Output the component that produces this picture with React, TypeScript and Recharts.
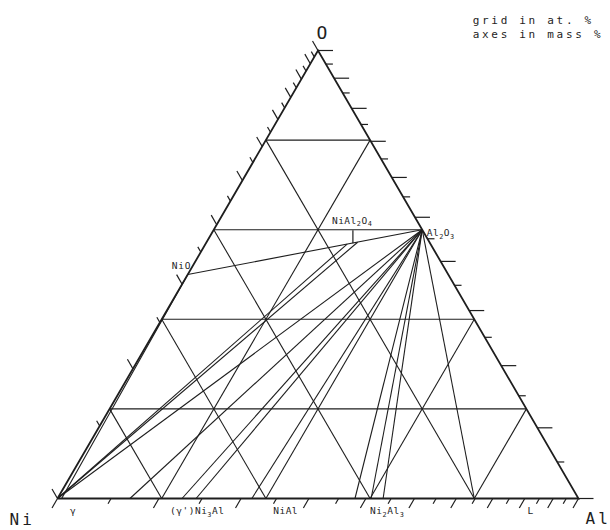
import React from 'react'
import { ComposedChart, ReferenceDot, ReferenceLine, Scatter, XAxis, YAxis } from 'recharts'

// compositions are [Ni, Al, O] in at.%
type Comp = [number, number, number]

const NI: Comp = [100, 0, 0]
const AL: Comp = [0, 100, 0]
const O: Comp = [0, 0, 100]
const NIO: Comp = [50, 0, 50]
const AL2O3: Comp = [0, 40, 60]
const SPINEL: Comp = [14.8, 28.2, 57.0]
const SPINEL_NI_EDGE: Comp = [16.0, 27.2, 56.8]
const SPINEL_AL_EDGE: Comp = [13.8, 29.0, 57.2]
const GAMMA_O_LIMIT: Comp = [99.2, 0.8, 0]

// grid in at.%
const GRID_AT = [20, 40, 60, 80]
// axes in mass %
const MASS_TICKS = [0, 5, 10, 15, 20, 25, 30, 35, 40, 45, 50, 55, 60, 65, 70, 75, 80, 85, 90, 95, 100]

// at.% Al on the Ni-Al side where tie lines to Al2O3 end
const AL2O3_TIES_AL = [0, 13.9, 23.9, 26.6, 37.3, 57.1, 60.2, 62.5, 80]

const OTHER_TIES: [Comp, Comp][] = [
  [NI, SPINEL_NI_EDGE],
  [NI, SPINEL_AL_EDGE],
  [NIO, AL2O3],
  [NIO, GAMMA_O_LIMIT],
]

const PHASES = ['γ', "(γ')Ni_3Al", 'NiAl', 'Ni_2Al_3', 'L']
const PHASES_AL = [2.4, 21.6, 41.4, 60.0, 90.2]

const ATOMIC_MASS = { Ni: 58.69, Al: 26.98, O: 16.0 }

const INK = '#1e1e1e'
const FONT = '"DejaVu Sans Mono", monospace'

// pixel frame of the triangle
const ORIGIN_X = 57.5
const ORIGIN_Y = 498.5
const SCALE_X = 521
const SCALE_Y = 517.3
const W = 610
const H = 530

const H3 = Math.sqrt(3) / 2

function toPt(c: Comp) {
  const s = c[0] + c[1] + c[2]
  const al = c[1] / s
  const o = c[2] / s
  return { x: al + o / 2, y: o * H3 }
}

function fromPx(px: number, py: number) {
  return { x: (px - ORIGIN_X) / SCALE_X, y: (ORIGIN_Y - py) / SCALE_Y }
}

function atFraction(w: number, mA: number, mB: number) {
  const b = w / mB
  const a = (1 - w) / mA
  return b / (a + b)
}

function Rich({ x, y, text, size, spacing = 0, anchor = 'start' }: any) {
  const parts = text.split(/_(\w)/)
  const nodes: any[] = []
  let low = false
  parts.forEach((p: string, i: number) => {
    if (!p) return
    const sub = i % 2 === 1
    let dy: number | undefined
    if (sub && !low) {
      dy = size * 0.3
      low = true
    } else if (!sub && low) {
      dy = -size * 0.3
      low = false
    }
    nodes.push(
      <tspan key={i} dy={dy} fontSize={sub ? size * 0.72 : size}>
        {p}
      </tspan>
    )
  })
  return (
    <text x={x} y={y} fontFamily={FONT} fontSize={size} letterSpacing={spacing} textAnchor={anchor} fill={INK}>
      {nodes}
    </text>
  )
}

type Seg = { a: { x: number; y: number }; b: { x: number; y: number }; w: number }

function buildSegments(): Seg[] {
  const segs: Seg[] = []
  // grid
  GRID_AT.forEach((k) => {
    segs.push({ a: toPt([100 - k, 0, k]), b: toPt([0, 100 - k, k]), w: 1.1 })
    segs.push({ a: toPt([100 - k, k, 0]), b: toPt([0, k, 100 - k]), w: 1.1 })
    segs.push({ a: toPt([k, 100 - k, 0]), b: toPt([k, 0, 100 - k]), w: 1.1 })
  })
  // tie lines
  AL2O3_TIES_AL.forEach((al) => {
    segs.push({ a: toPt([100 - al, al, 0]), b: toPt(AL2O3), w: 1.1 })
  })
  OTHER_TIES.forEach(([p, q]) => segs.push({ a: toPt(p), b: toPt(q), w: 1.1 }))

  // mass % ticks
  const axes = [
    { mA: ATOMIC_MASS.Ni, mB: ATOMIC_MASS.Al, comp: (x: number): Comp => [100 - 100 * x, 100 * x, 0], dir: [-0.5, -H3], long: 11, short: 6 },
    { mA: ATOMIC_MASS.Ni, mB: ATOMIC_MASS.O, comp: (x: number): Comp => [100 - 100 * x, 0, 100 * x], dir: [-0.5, H3], long: 11, short: 6 },
    { mA: ATOMIC_MASS.Al, mB: ATOMIC_MASS.O, comp: (x: number): Comp => [0, 100 - 100 * x, 100 * x], dir: [1, 0], long: 15, short: 7 },
  ]
  axes.forEach((ax) => {
    MASS_TICKS.forEach((m) => {
      const x = atFraction(m / 100, ax.mA, ax.mB)
      const p = toPt(ax.comp(x))
      const len = m % 10 === 0 ? ax.long : ax.short
      segs.push({ a: p, b: { x: p.x + (ax.dir[0] * len) / SCALE_X, y: p.y + (ax.dir[1] * len) / SCALE_Y }, w: 1.2 })
    })
  })
  // spinel marker
  const sp = toPt(SPINEL)
  segs.push({ a: sp, b: { x: sp.x, y: sp.y + 13 / SCALE_Y }, w: 1.2 })
  return segs
}

const LABELS: { at: { x: number; y: number }; text: string; dx: number; dy: number; size: number; spacing: number }[] = [
  { at: toPt(O), text: 'O', dx: -1.5, dy: -12, size: 18, spacing: 0 },
  { at: toPt(NI), text: 'Ni', dx: -48, dy: 26, size: 16, spacing: 3 },
  { at: toPt(AL), text: 'Al', dx: 7, dy: 25.5, size: 16, spacing: 3 },
  { at: toPt(NIO), text: 'NiO', dx: -16, dy: -6, size: 9.5, spacing: 0.8 },
  { at: toPt(SPINEL), text: 'NiAl_2O_4', dx: -21, dy: -19.5, size: 9.5, spacing: 0.5 },
  { at: toPt(AL2O3), text: 'Al_2O_3', dx: 4.5, dy: 6.5, size: 9.5, spacing: 0.5 },
  ...PHASES.map((t, i) => ({ at: toPt([100 - PHASES_AL[i], PHASES_AL[i], 0]), text: t, dx: 0, dy: 15.5, size: 9.5, spacing: 0.5 })),
  { at: fromPx(472.7, 24), text: 'grid in at.  %', dx: 0, dy: 0, size: 11, spacing: 2.7 },
  { at: fromPx(472.7, 37.5), text: 'axes in mass %', dx: 0, dy: 0, size: 11, spacing: 2.7 },
]

export default function App() {
  const segs = buildSegments()
  const outline = [NI, AL, O, NI].map(toPt)
  return (
    <div style={{ position: 'absolute', left: 0, top: 0, width: W, height: H, background: '#fff' }}>
      <ComposedChart width={W} height={H} margin={{ top: 0, right: 0, bottom: 0, left: 0 }}>
        <XAxis
          type="number"
          dataKey="x"
          domain={[-ORIGIN_X / SCALE_X, (W - ORIGIN_X) / SCALE_X]}
          allowDataOverflow
          hide
        />
        <YAxis
          type="number"
          dataKey="y"
          domain={[-(H - ORIGIN_Y) / SCALE_Y, ORIGIN_Y / SCALE_Y]}
          allowDataOverflow
          hide
        />
        {segs.map((s, i) => (
          <ReferenceLine
            key={'s' + i}
            segment={[s.a, s.b]}
            stroke={INK}
            strokeWidth={s.w}
            ifOverflow="visible"
          />
        ))}
        <Scatter
          data={outline}
          line={{ stroke: INK, strokeWidth: 1.8 }}
          lineType="joint"
          shape={() => <g />}
          isAnimationActive={false}
        />
        {LABELS.map((l, i) => (
          <ReferenceDot
            key={'l' + i}
            x={l.at.x}
            y={l.at.y}
            r={0}
            ifOverflow="visible"
            shape={(p: any) => (
              <Rich x={p.cx + l.dx} y={p.cy + l.dy} text={l.text} size={l.size} spacing={l.spacing} />
            )}
          />
        ))}
      </ComposedChart>
    </div>
  )
}
